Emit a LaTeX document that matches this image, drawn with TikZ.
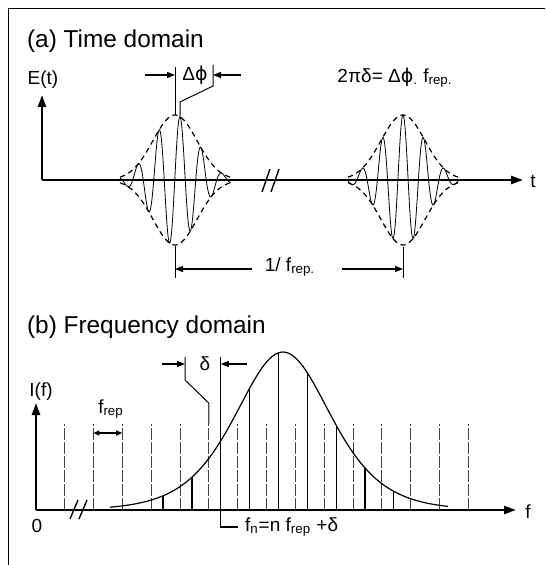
\documentclass[tikz,border=0pt]{standalone}
\usepackage{fontspec}
\setmainfont{Liberation Sans}
\newfontfamily\greekphi{DejaVu Sans}
\newcommand{\phase}{Δ{\greekphi ϕ}}
\usetikzlibrary{positioning, arrows.meta}

\begin{document}
\begin{tikzpicture}[
  x=0.5pt, y=-0.5pt,
  font=\fontsize{9.5}{11}\selectfont,
  title/.style={anchor=west, font=\fontsize{12.2}{14}\selectfont},
  axis/.style={line width=1.2pt, -{Triangle[length=6pt, width=4pt]}},
  dim/.style={line width=0.7pt, -{Triangle[length=4pt, width=3pt]}},
  dimboth/.style={line width=0.6pt, {Triangle[length=3pt, width=2.5pt]}-{Triangle[length=3pt, width=2.5pt]}},
  guide/.style={line width=0.5pt},
  envelope/.style={line width=0.6pt, dash pattern=on 2.6pt off 2pt},
  carrier/.style={line width=0.4pt},
  refline/.style={line width=0.4pt, black!75, dash pattern=on 6pt off 1pt},
  combline/.style={line width=0.6pt},
  declare function={env(\x,\m)=65*exp(-0.5*((\x-\m)/22)^2);
                    spec(\x)=158/(cosh((\x-283)/64))^2;},
]
  \useasboundingbox (0,0) rectangle (545,565);
  \draw[guide] (8,565) |- (545,9);

  % (a) time domain
  \node[title] (ta) at (20,41) {(a) Time domain};
  \coordinate (o1) at (42,180);
  \coordinate (t1) at (523,180);
  \coordinate (e1) at (42,95);
  \draw[axis] (o1) -- (t1);
  \draw[axis] (o1) -- (e1);
  \node (elab) at (43,80) {E(t)};
  \node (tlab) at (533,181) {t};
  \foreach \s in {0,9}
    \draw[line width=0.7pt] ({262+\s},192) -- ++(8,-23);

  % two pulses: envelope centre / carrier crest
  \foreach \c/\p/\w in {175/180/21, 403/403/20.5} {
    \draw[envelope] plot[domain={\c-55}:{\c+56}, samples=80] (\x,{180-env(\x,\c)});
    \draw[envelope] plot[domain={\c-55}:{\c+56}, samples=80] (\x,{180+env(\x,\c)});
    \draw[carrier] plot[domain={\c-55}:{\c+56}, samples=240]
      (\x,{180-env(\x,\c)*cos(360/\w*(\x-\p))});
  }

  % carrier-envelope phase
  \coordinate (envtop) at (175,115);
  \coordinate (cartop) at (180,116);
  \draw[guide] (envtop) -- (175,67) coordinate (dl);
  \draw[guide] (cartop) -- ++(0,-14) -- (213,86) -- (213,65) coordinate (dr);
  \node (dphi) at (195,75) {\phase};
  \coordinate (dlin) at (145,75);
  \coordinate (drin) at (241,75);
  \draw[dim] (dlin) -- (dl |- dphi);
  \draw[dim] (drin) -- (dr |- dphi);
  \node (rel) at (395,78) {2πδ= \phase\textsubscript{.} f\textsubscript{rep.}};

  % pulse period
  \draw[guide] (175,246) -- (175,278) coordinate (lb1);
  \draw[guide] (403,247) -- (403,278) coordinate (lb2);
  \node (period) at (290,267) {1/ f\textsubscript{rep.}};
  \coordinate (pl) at (252,269);
  \coordinate (pr) at (342,269);
  \draw[dim] (pl) -- (lb1 |- pl);
  \draw[dim] (pr) -- (lb2 |- pr);

  % (b) frequency domain
  \node[title] (tb) at (20,327) {(b) Frequency domain};
  \coordinate (o2) at (36,510);
  \coordinate (f2) at (516,510);
  \coordinate (i2) at (36,403);
  \draw[axis] (o2) -- (f2);
  \draw[axis] (o2) -- (i2);
  \node (ilab) at (41,392) {I(f)};
  \node (zero) at (37,526) {0};
  \node (flab) at (528,512) {f};
  \foreach \s in {0,9}
    \draw[line width=0.7pt] ({70+\s},519) -- ++(8,-19);

  % reference grid n f_rep and the offset comb
  \foreach \k in {0,...,14}
    \draw[refline] ({64.5+28.85*\k},510) -- ++(0,-86);
  \foreach \k in {3,4,6,7,8,9,10,11} {
    \pgfmathsetmacro\xf{64.5+28.85*\k+12}
    \draw[combline] (\xf,510) -- (\xf,{510-spec(\xf)});
  }
  \draw[line width=0.6pt] plot[domain=110:448, samples=120] (\x,{510-spec(\x)});

  \coordinate (g1) at (93.35,433);
  \coordinate (g2) at (122.2,433);
  \draw[dimboth] (g1) -- (g2);
  \node (frep) at (111,409) {f\textsubscript{rep}};

  % offset delta and the n-th line
  \draw[guide] (208.75,424) -- (208.75,403) -- (185,380) -- (185,357) coordinate (bl);
  \coordinate (fnfoot) at (238,527);
  \draw[combline] (fnfoot) -| (220.75,357) coordinate (br);
  \node (delta) at (205,364) {δ};
  \coordinate (bin) at (162,364);
  \coordinate (brin) at (247,364);
  \draw[dim] (bin) -- (bl |- delta);
  \draw[dim] (brin) -- (br |- delta);
  \node[right=0pt of fnfoot] (fn) {f\textsubscript{n}=n f\textsubscript{rep} +δ};
\end{tikzpicture}
\end{document}
